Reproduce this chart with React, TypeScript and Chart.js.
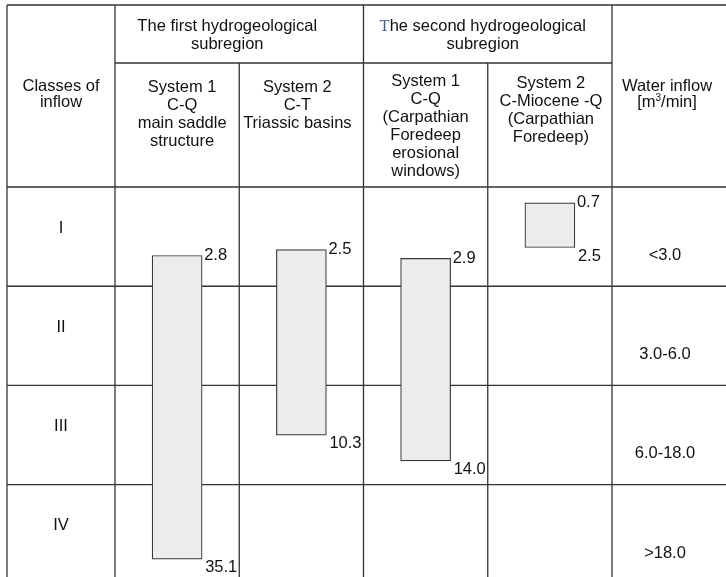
import React, { useEffect, useRef } from "react";
import { Chart, registerables } from "chart.js";

Chart.register(...registerables);

// ---- data (bar extents in "class units": row I = 0..1, II = 1..2, ...)
const systems = ["System 1 C-Q", "System 2 C-T", "System 1 C-Q (Carpathian)", "System 2 C-Miocene-Q"];
const barTop = [0.69, 0.63, 0.72, 0.16];
const barBottom = [3.75, 2.5, 2.76, 0.61];
const topValueLabels = ["2.8", "2.5", "2.9", "0.7"];
const bottomValueLabels = ["35.1", "10.3", "14.0", "2.5"];
const classes = ["I", "II", "III", "IV"];
const inflowRanges = ["<3.0", "3.0-6.0", "6.0-18.0", ">18.0"];
const groupHeaders = [
  ["The first hydrogeological", "subregion"],
  ["The second hydrogeological", "subregion"],
];
const columnHeaders = [
  ["System 1", "C-Q", "main saddle", "structure"],
  ["System 2", "C-T", "Triassic basins"],
  ["System 1", "C-Q", "(Carpathian", "Foredeep", "erosional", "windows)"],
  ["System 2", "C-Miocene -Q", "(Carpathian", "Foredeep)"],
];

const FONT_FAMILY = '"Liberation Sans", Arial, Helvetica, sans-serif';
const FONT = "16.5px " + FONT_FAMILY;
const SERIF_FONT = '16.5px "Liberation Serif", "Times New Roman", serif';
const LINE_COLOR = "#333333";
const TEXT_COLOR = "#111111";

const tablePlugin = {
  id: "tablePlugin",
  beforeDatasetsDraw(chart: any) {
    const { ctx, scales, width, height } = chart;
    const x = scales.x;
    const y = scales.y;
    const n = systems.length;
    const edge = (i: number) => x.getPixelForValue(i - 0.5);
    const leftX = 7;
    const topY = 5;
    const subY = 63;
    ctx.save();
    ctx.strokeStyle = LINE_COLOR;
    ctx.lineWidth = 1.3;
    const line = (x1: number, y1: number, x2: number, y2: number) => {
      ctx.beginPath();
      ctx.moveTo(x1, y1);
      ctx.lineTo(x2, y2);
      ctx.stroke();
    };
    // outer top and left borders
    line(leftX, topY, width, topY);
    line(leftX, topY, leftX, height);
    // main vertical lines
    [0, 2, n].forEach((i) => line(edge(i), topY, edge(i), height));
    // vertical lines inside groups
    [1, 3].forEach((i) => line(edge(i), subY, edge(i), height));
    // line under group headers
    line(edge(0), subY, edge(n), subY);
    // row lines
    for (let k = 0; k < classes.length; k++) {
      const py = y.getPixelForValue(k);
      line(leftX, py, width, py);
    }
    ctx.restore();
  },
  afterDatasetsDraw(chart: any) {
    const { ctx, chartArea: a, scales, width } = chart;
    const x = scales.x;
    const y = scales.y;
    const edge = (i: number) => x.getPixelForValue(i - 0.5);
    ctx.save();
    ctx.fillStyle = TEXT_COLOR;
    ctx.font = FONT;
    ctx.textBaseline = "alphabetic";

    // value labels at bar ends
    const meta = chart.getDatasetMeta(0);
    meta.data.forEach((el: any, i: number) => {
      const p = el.getProps(["x", "y", "base", "width"], true);
      const top = Math.min(p.y, p.base);
      const bottom = Math.max(p.y, p.base);
      const right = p.x + p.width / 2;
      ctx.textAlign = "left";
      ctx.fillText(topValueLabels[i], right + 2, top + 4.5);
      ctx.fillText(bottomValueLabels[i], right + 3, bottom + 13);
    });

    // row labels and inflow ranges
    const leftCenter = (7 + a.left) / 2;
    const rightCenter = (a.right + width) / 2 - 4;
    ctx.textAlign = "center";
    classes.forEach((c, k) => {
      const py = y.getPixelForValue(k);
      ctx.fillText(c, leftCenter, py + 45.5);
      ctx.fillText(inflowRanges[k], rightCenter, py + 73);
    });

    // left header
    ctx.fillText("Classes of", leftCenter, 91);
    ctx.fillText("inflow", leftCenter, 107);

    // right header: Water inflow [m3/min]
    const rc = (a.right + width) / 2 - 2;
    ctx.fillText("Water inflow", rc, 91);
    {
      const p1 = "[m";
      const p3 = "/min]";
      const supFont = "10px " + FONT_FAMILY;
      ctx.font = FONT;
      const w1 = ctx.measureText(p1).width;
      const w3 = ctx.measureText(p3).width;
      ctx.font = supFont;
      const w2 = ctx.measureText("3").width;
      let sx = rc - (w1 + w2 + w3) / 2;
      ctx.textAlign = "left";
      ctx.font = FONT;
      ctx.fillText(p1, sx, 107);
      sx += w1;
      ctx.font = supFont;
      ctx.fillText("3", sx, 101);
      sx += w2;
      ctx.font = FONT;
      ctx.fillText(p3, sx, 107);
      ctx.textAlign = "center";
    }

    // group headers
    const groupCenters = [(edge(0) + edge(2)) / 2 - 12, (edge(2) + edge(4)) / 2 - 5];
    groupHeaders.forEach((lines, g) => {
      lines.forEach((t, j) => {
        const by = 31 + j * 18;
        if (g === 1 && j === 0) {
          // first letter drawn in a blue serif face as in the source
          const first = t.charAt(0);
          const rest = t.slice(1);
          ctx.font = SERIF_FONT;
          const wf = ctx.measureText(first).width;
          ctx.font = FONT;
          const wr = ctx.measureText(rest).width;
          const sx = groupCenters[g] - (wf + wr) / 2;
          ctx.textAlign = "left";
          ctx.font = SERIF_FONT;
          ctx.fillStyle = "#4a5d8f";
          ctx.fillText(first, sx, by);
          ctx.font = FONT;
          ctx.fillStyle = TEXT_COLOR;
          ctx.fillText(rest, sx + wf, by);
          ctx.textAlign = "center";
        } else {
          ctx.font = FONT;
          ctx.fillText(t, groupCenters[g], by);
        }
      });
    });

    // column headers
    const colStart = [92, 92, 86, 88];
    const colDx = [5, -4, 0, 1];
    ctx.font = FONT;
    columnHeaders.forEach((lines, i) => {
      const cx = x.getPixelForValue(i) + colDx[i];
      lines.forEach((t, j) => {
        ctx.fillText(t, cx, colStart[i] + j * 18);
      });
    });

    ctx.restore();
  },
};

export default function App() {
  const canvasRef = useRef<HTMLCanvasElement | null>(null);

  useEffect(() => {
    document.body.style.margin = "0";
    const canvas = canvasRef.current;
    if (!canvas) return;
    const chart = new Chart(canvas, {
      type: "bar",
      data: {
        labels: systems,
        datasets: [
          {
            label: "Water inflow range",
            data: barTop.map((t, i) => [t, barBottom[i]]) as any,
            backgroundColor: "#ebeceb",
            borderColor: "#3a3a3a",
            borderWidth: 1.2,
            borderSkipped: false,
            barThickness: 50,
          },
        ],
      },
      options: {
        animation: false,
        responsive: false,
        maintainAspectRatio: false,
        devicePixelRatio: 1,
        layout: { padding: { left: 115, right: 114, top: 187, bottom: 0 } },
        plugins: {
          legend: { display: false },
          tooltip: { enabled: false },
        },
        scales: {
          x: {
            type: "category",
            display: false,
            offset: true,
            grid: { display: false },
          },
          y: {
            type: "linear",
            display: false,
            reverse: true,
            min: 0,
            max: 3.93,
            grid: { display: false },
          },
        },
      },
      plugins: [tablePlugin],
    });
    return () => chart.destroy();
  }, []);

  return (
    <div style={{ position: "fixed", left: 0, top: 0, width: 726, height: 577, background: "#ffffff" }}>
      <canvas ref={canvasRef} width={726} height={577} style={{ display: "block" }} />
    </div>
  );
}
